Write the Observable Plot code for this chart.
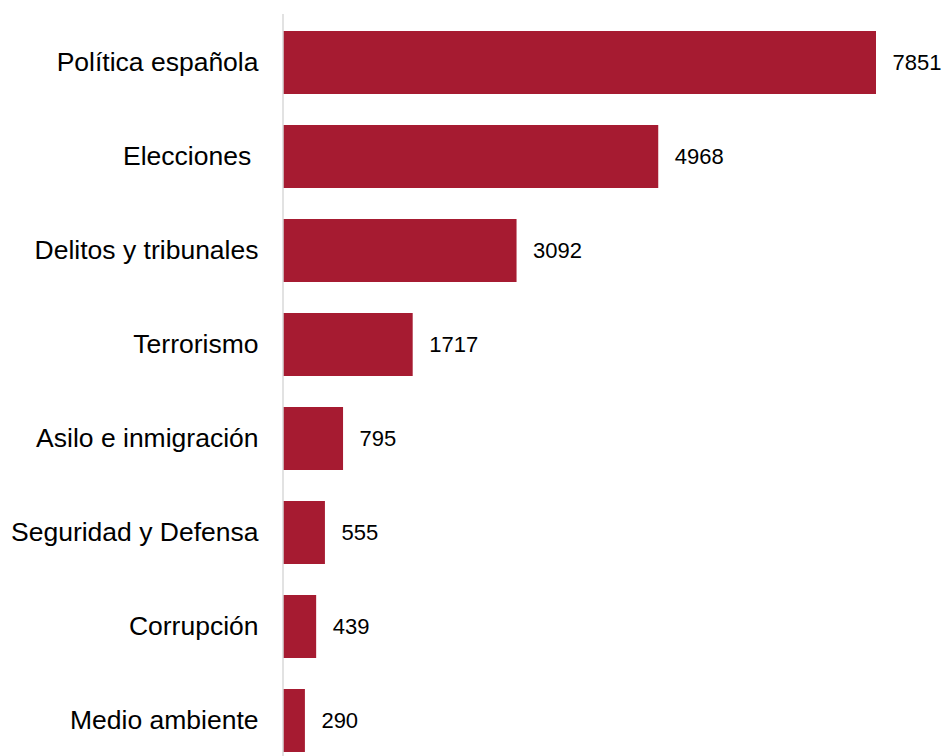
<!DOCTYPE html>
<html>
<head>
<meta charset="utf-8">
<script src="https://cdn.jsdelivr.net/npm/d3@7"></script>
<script src="https://cdn.jsdelivr.net/npm/@observablehq/plot@0.6"></script>
<style>
  html, body { margin: 0; padding: 0; background: #fff; }
  svg text { font-family: "Liberation Sans", Arial, sans-serif; }
</style>
</head>
<body>
<div id="chart"></div>
<script>
const categories = ["Política española", "Elecciones\u00a0", "Delitos y tribunales", "Terrorismo", "Asilo e inmigración", "Seguridad y Defensa", "Corrupción", "Medio ambiente"];
const values = [7851, 4968, 3092, 1717, 795, 555, 439, 290];

const data = categories.map((c, i) => ({category: c, value: values[i]}));

const chart = Plot.plot({
  width: 945,
  height: 756,
  marginTop: 14,
  marginBottom: 0,
  marginLeft: 283,
  marginRight: 69,
  style: {fontFamily: "'Liberation Sans', Arial, sans-serif", background: "#fff"},
  x: {domain: [0, 7851], axis: null},
  y: {domain: categories, range: [30, 752], paddingInner: 0.335, paddingOuter: 0, label: null},
  marks: [
    Plot.barX(data, {x: "value", y: "category", fill: "#A61B31"}),
    Plot.ruleX([0], {stroke: "#d9d9d9", strokeWidth: 1.5, dx: -0.5}),
    Plot.text(data, {x: "value", y: "category", text: d => String(d.value), textAnchor: "start", dx: 16, fontSize: 22, fill: "#000"}),
    Plot.axisY({tickSize: 0, tickPadding: 25, fontSize: 26.5, fill: "#000"})
  ]
});
document.getElementById("chart").appendChild(chart);
</script>
</body>
</html>
